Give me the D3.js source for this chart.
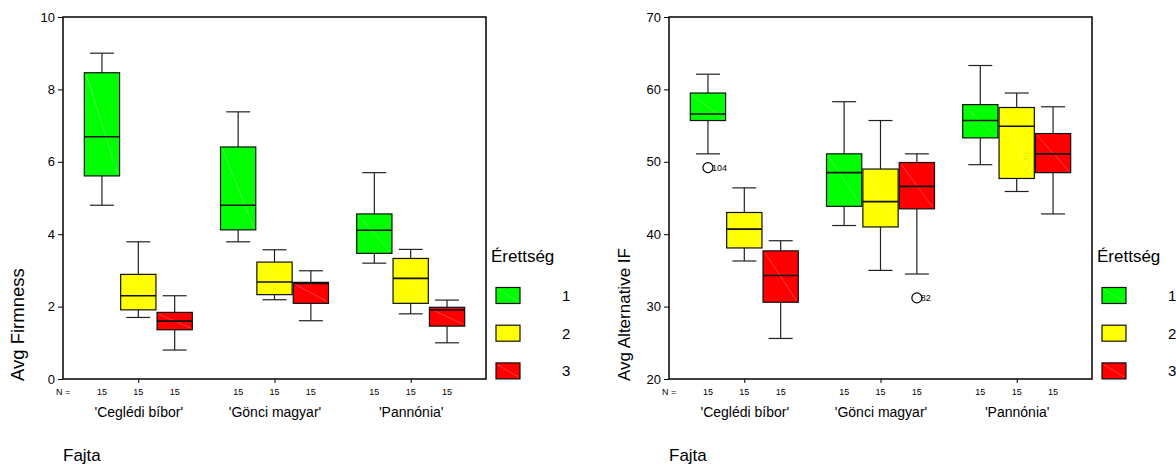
<!DOCTYPE html>
<html>
<head>
<meta charset="utf-8">
<style>
body { margin: 0; background: #fff; }
svg { display: block; font-family: "Liberation Sans", Arial, sans-serif; }
.axis text { font-size: 13px; fill: #000; }
.axis line { stroke: #000; }
.axis path { display: none; }
</style>
</head>
<body>
<script src="https://d3js.org/d3.v7.min.js"></script>
<script>
const W = 1176, H = 464;

const categories = ["'Ceglédi bíbor'", "'Gönci magyar'", "'Pannónia'"];
const maturity = ["1", "2", "3"];
const colors = ["#00ff00", "#ffff00", "#ff0000"];
const counts = [15, 15, 15, 15, 15, 15, 15, 15, 15];

// box stats, ordered category by category, maturity 1..3 inside
const firmMin = [4.80, 1.70, 0.80, 3.79, 2.19, 1.61, 3.20, 1.80, 1.00];
const firmQ1  = [5.61, 1.91, 1.36, 4.12, 2.33, 2.09, 3.47, 2.09, 1.46];
const firmMed = [6.69, 2.30, 1.60, 4.80, 2.68, 2.64, 4.11, 2.78, 1.91];
const firmQ3  = [8.46, 2.89, 1.84, 6.41, 3.23, 2.67, 4.56, 3.33, 1.98];
const firmMax = [9.00, 3.79, 2.30, 7.38, 3.57, 2.99, 5.70, 3.58, 2.18];
const firmTicks = [0, 2, 4, 6, 8, 10];

const altMin = [51.1, 36.3, 25.6, 41.2, 35.0, 34.5, 49.6, 45.9, 42.8];
const altQ1  = [55.7, 38.1, 30.6, 43.85, 41.0, 43.5, 53.3, 47.7, 48.5];
const altMed = [56.6, 40.7, 34.3, 48.5, 44.5, 46.6, 55.7, 54.9, 51.1];
const altQ3  = [59.5, 43.0, 37.7, 51.1, 49.0, 49.9, 57.9, 57.5, 53.9];
const altMax = [62.1, 46.4, 39.1, 58.3, 55.7, 51.1, 63.3, 59.5, 57.6];
const altTicks = [20, 30, 40, 50, 60, 70];

const altOutCat = [0, 1];
const altOutMat = [0, 2];
const altOutVal = [49.2, 31.2];
const altOutLabel = ["104", "82"];

const svg = d3.select("body").append("svg")
  .attr("width", W)
  .attr("height", H);

function panel(left, opts) {
  const top = 17, bottom = 379, pw = 423;
  const g = svg.append("g").attr("transform", `translate(${left},0)`);

  const y = d3.scaleLinear().domain(opts.domain).range([bottom, top]);
  const x = d3.scalePoint().domain(categories).range([0, pw]).padding(0.553);
  const sub = d3.scaleBand().domain(maturity).range([-54, 54]).paddingInner(0.03);

  const rows = [];
  categories.forEach((c, ci) => {
    maturity.forEach((m, mi) => {
      const k = ci * 3 + mi;
      rows.push({
        cat: c, mat: m, color: colors[mi], n: counts[k],
        min: opts.min[k], q1: opts.q1[k], med: opts.med[k], q3: opts.q3[k], max: opts.max[k],
        cx: x(c) + sub(m) + sub.bandwidth() / 2
      });
    });
  });

  const bw = sub.bandwidth();
  const cap = bw * 0.68;
  const box = g.selectAll("g.box").data(rows).enter().append("g").attr("class", "box");

  box.append("line")
    .attr("x1", d => d.cx).attr("x2", d => d.cx)
    .attr("y1", d => y(d.max)).attr("y2", d => y(d.q3))
    .attr("stroke", "#222").attr("stroke-width", 1.2);
  box.append("line")
    .attr("x1", d => d.cx).attr("x2", d => d.cx)
    .attr("y1", d => y(d.q1)).attr("y2", d => y(d.min))
    .attr("stroke", "#222").attr("stroke-width", 1.2);
  box.append("line")
    .attr("x1", d => d.cx - cap / 2).attr("x2", d => d.cx + cap / 2)
    .attr("y1", d => y(d.max)).attr("y2", d => y(d.max))
    .attr("stroke", "#222").attr("stroke-width", 1.2);
  box.append("line")
    .attr("x1", d => d.cx - cap / 2).attr("x2", d => d.cx + cap / 2)
    .attr("y1", d => y(d.min)).attr("y2", d => y(d.min))
    .attr("stroke", "#222").attr("stroke-width", 1.2);
  box.append("rect")
    .attr("x", d => d.cx - bw / 2).attr("width", bw)
    .attr("y", d => y(d.q3)).attr("height", d => y(d.q1) - y(d.q3))
    .attr("fill", d => d.color)
    .attr("stroke", "#111").attr("stroke-width", 1.2);
  box.append("line")
    .attr("x1", d => d.cx - bw / 2 + 2).attr("x2", d => d.cx + bw / 2 - 2)
    .attr("y1", d => y(d.q3) + 2).attr("y2", d => y(d.q1) - 2)
    .attr("stroke", "#fff").attr("stroke-opacity", 0.35).attr("stroke-width", 0.7);
  box.append("line")
    .attr("x1", d => d.cx - bw / 2).attr("x2", d => d.cx + bw / 2)
    .attr("y1", d => y(d.med)).attr("y2", d => y(d.med))
    .attr("stroke", "#111").attr("stroke-width", 1.6);

  if (opts.outVal) {
    opts.outVal.forEach((v, i) => {
      const cx = x(categories[opts.outCat[i]]) + sub(maturity[opts.outMat[i]]) + bw / 2;
      g.append("circle")
        .attr("cx", cx).attr("cy", y(v)).attr("r", 5)
        .attr("fill", "#fff").attr("stroke", "#000").attr("stroke-width", 1.2);
      g.append("text")
        .attr("x", cx + 4).attr("y", y(v) + 3.5)
        .attr("font-size", 9).text(opts.outLabel[i]);
    });
  }

  // frame
  g.append("rect")
    .attr("x", 0).attr("y", top).attr("width", pw).attr("height", bottom - top)
    .attr("fill", "none").attr("stroke", "#000").attr("stroke-width", 1.5);

  g.append("g").attr("class", "axis")
    .call(d3.axisLeft(y).tickValues(opts.ticks).tickSize(5).tickPadding(3));

  g.append("g").attr("class", "axis cat")
    .attr("transform", `translate(0,${bottom})`)
    .call(d3.axisBottom(x).tickSize(4).tickPadding(24))
    .selectAll("text").attr("font-size", 14).style("font-size", "14px");

  // N counts
  g.append("text").attr("x", 0).attr("y", 395)
    .attr("text-anchor", "middle").attr("font-size", 9).text("N =");
  g.selectAll("text.n").data(rows).enter().append("text")
    .attr("class", "n")
    .attr("x", d => d.cx).attr("y", 395)
    .attr("text-anchor", "middle").attr("font-size", 9)
    .text(d => d.n);

  // axis titles
  g.append("text")
    .attr("transform", `translate(-39,381) rotate(-90)`)
    .attr("font-size", opts.ysize).text(opts.ylabel);
  g.append("text").attr("x", 0).attr("y", 461)
    .attr("font-size", 17).text("Fajta");

  // legend
  const lg = g.append("g").attr("transform", `translate(${pw + 10},0)`);
  lg.append("text").attr("x", -5).attr("y", 262).attr("font-size", 17).text("Érettség");
  const item = lg.selectAll("g.item").data(maturity).enter().append("g")
    .attr("class", "item")
    .attr("transform", (d, i) => `translate(0,${287.5 + i * 37.7})`);
  item.append("rect")
    .attr("width", 24).attr("height", 16)
    .attr("fill", (d, i) => colors[i])
    .attr("stroke", "#111").attr("stroke-width", 1.2);
  item.append("line")
    .attr("x1", 2).attr("y1", 2).attr("x2", 22).attr("y2", 14)
    .attr("stroke", "#fff").attr("stroke-opacity", 0.35).attr("stroke-width", 0.7);
  item.append("text")
    .attr("x", 66).attr("y", 13.5).attr("font-size", 15).text(d => d);
}

panel(63, {
  domain: [0, 10], ticks: firmTicks, ylabel: "Avg Firmness", ysize: 18.5,
  min: firmMin, q1: firmQ1, med: firmMed, q3: firmQ3, max: firmMax
});

panel(669, {
  domain: [20, 70], ticks: altTicks, ylabel: "Avg Alternative IF", ysize: 17,
  min: altMin, q1: altQ1, med: altMed, q3: altQ3, max: altMax,
  outCat: altOutCat, outMat: altOutMat, outVal: altOutVal, outLabel: altOutLabel
});
</script>
</body>
</html>
